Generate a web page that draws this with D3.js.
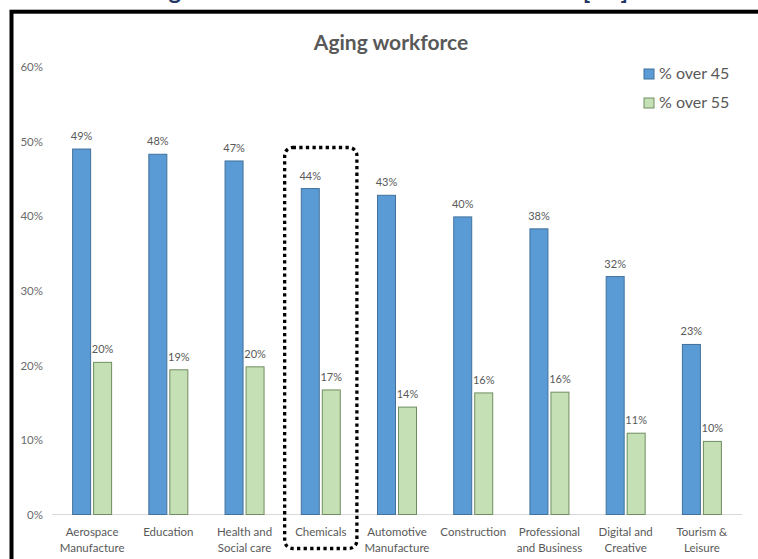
<!DOCTYPE html>
<html>
<head>
<meta charset="utf-8">
<script src="https://cdn.jsdelivr.net/npm/d3@7"></script>
<style>
  html, body { margin: 0; padding: 0; background: #fff; }
  svg { display: block; }
  text { font-family: Lato, "Open Sans", sans-serif; }
</style>
</head>
<body>
<svg id="chart" width="758" height="559"></svg>
<script>
// Sector categories (two-line labels)
const categories = [
  ["Aerospace", "Manufacture"],
  ["Education"],
  ["Health and", "Social care"],
  ["Chemicals"],
  ["Automotive", "Manufacture"],
  ["Construction"],
  ["Professional", "and Business"],
  ["Digital and", "Creative"],
  ["Tourism &", "Leisure"]
];
// Share of the workforce in each age band
const over45 = [0.490, 0.483, 0.474, 0.437, 0.428, 0.399, 0.383, 0.319, 0.228];
const over55 = [0.204, 0.194, 0.198, 0.167, 0.144, 0.163, 0.164, 0.109, 0.098];
const seriesNames = ["% over 45", "% over 55"];
const yTicks = [0, 0.1, 0.2, 0.3, 0.4, 0.5, 0.6];
const highlighted = "Chemicals";

const colors = { fill: ["#5B9BD5", "#C5E0B4"], stroke: ["#41719C", "#6F8D60"] };
const grey = "#595959";

const svg = d3.select("#chart");
const names = categories.map(c => c.join(" "));

const x = d3.scaleBand().domain(names).range([54, 740]);
const x1 = d3.scaleBand().domain(seriesNames)
  .range([x.bandwidth() / 2 - 19.5, x.bandwidth() / 2 + 19.5])
  .paddingInner(0.143);
const y = d3.scaleLinear().domain([0, 0.6]).range([514.5, 67]);

// Heading band cut by the frame
svg.append("text")
  .attr("x", 151).attr("y", -1)
  .attr("textLength", 477).attr("lengthAdjust", "spacing")
  .attr("font-size", 24).attr("font-weight", "bold")
  .attr("fill", "#1F3864")
  .text("Age of the chemical sector workforce [10]");

// Outer frame
svg.append("rect")
  .attr("x", 11.5).attr("y", 11.7).attr("width", 800).attr("height", 600)
  .attr("fill", "none").attr("stroke", "#000").attr("stroke-width", 4);

// Chart title
svg.append("text")
  .attr("x", 391).attr("y", 50).attr("text-anchor", "middle")
  .attr("font-size", 21).attr("font-weight", "bold").attr("fill", grey)
  .text("Aging workforce");

// Y axis labels
const yAxis = svg.append("g")
  .attr("transform", "translate(43,0)")
  .call(d3.axisLeft(y).tickValues(yTicks).tickFormat(d3.format(".0%")).tickSize(0).tickPadding(0));
yAxis.select(".domain").remove();
yAxis.selectAll("text").attr("font-size", 11.5).attr("fill", "#6b6b6b")
  .style("font-family", "Lato, 'Open Sans', sans-serif");

// Category baseline
svg.append("line")
  .attr("x1", 52).attr("x2", 742).attr("y1", y(0)).attr("y2", y(0))
  .attr("stroke", "#d9d9d9").attr("stroke-width", 1);

// Bars
const rows = names.map((n, i) => ({ name: n, values: [over45[i], over55[i]] }));
const groups = svg.append("g").selectAll("g").data(rows).join("g")
  .attr("transform", d => `translate(${x(d.name)},0)`);

groups.selectAll("rect").data(d => d.values.map((v, k) => ({ k, v })))
  .join("rect")
  .attr("x", d => x1(seriesNames[d.k]))
  .attr("width", x1.bandwidth())
  .attr("y", d => y(d.v))
  .attr("height", d => y(0) - y(d.v))
  .attr("fill", d => colors.fill[d.k])
  .attr("stroke", d => colors.stroke[d.k])
  .attr("stroke-width", 1);

groups.selectAll("text.val").data(d => d.values.map((v, k) => ({ k, v })))
  .join("text").attr("class", "val")
  .attr("x", d => x1(seriesNames[d.k]) + x1.bandwidth() / 2)
  .attr("y", d => y(d.v) - 9)
  .attr("text-anchor", "middle")
  .attr("font-size", 11).attr("fill", grey)
  .text(d => d3.format(".0%")(d.v));

// Category labels
const xLabels = svg.append("g").selectAll("text").data(categories).join("text")
  .attr("x", (d, i) => x(names[i]) + x.bandwidth() / 2)
  .attr("y", 536)
  .attr("text-anchor", "middle")
  .attr("font-size", 11.5).attr("fill", grey);
xLabels.selectAll("tspan").data(d => d).join("tspan")
  .attr("x", function () { return this.parentNode.getAttribute("x"); })
  .attr("dy", (d, i) => i === 0 ? 0 : 16)
  .text(d => d);

// Legend
const legend = svg.append("g").selectAll("g").data(seriesNames).join("g")
  .attr("transform", (d, i) => `translate(644,${69 + i * 29})`);
legend.append("rect")
  .attr("width", 10).attr("height", 10)
  .attr("fill", (d, i) => colors.fill[i])
  .attr("stroke", (d, i) => colors.stroke[i]).attr("stroke-width", 1);
legend.append("text")
  .attr("x", 15).attr("y", 10)
  .attr("font-size", 16).attr("fill", grey)
  .text(d => d);

// Highlight around the selected sector
svg.append("rect")
  .attr("x", x(highlighted) + 2).attr("y", 147.5)
  .attr("width", x.bandwidth() - 4).attr("height", 401)
  .attr("rx", 8).attr("ry", 8)
  .attr("fill", "none").attr("stroke", "#000")
  .attr("stroke-width", 3.3).attr("stroke-dasharray", "3.3,3.3");
</script>
</body>
</html>
